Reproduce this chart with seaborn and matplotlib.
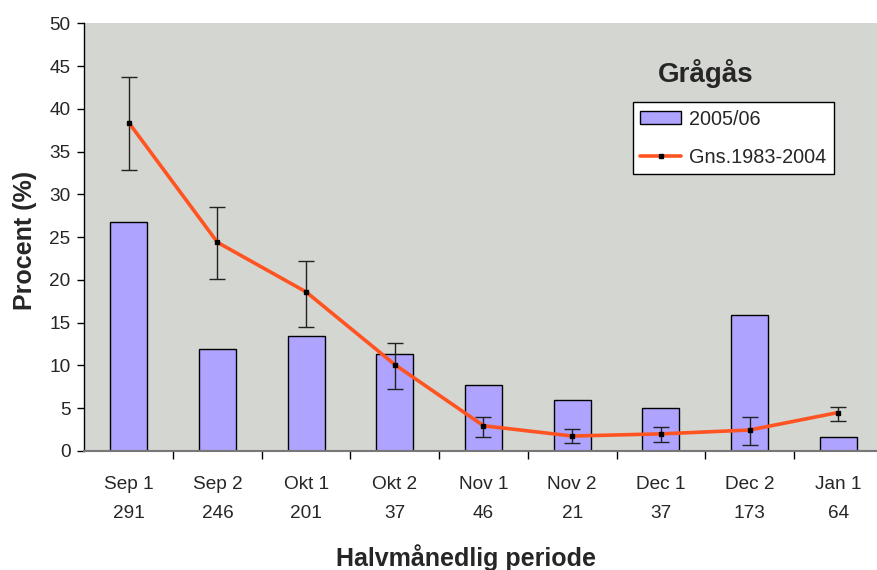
import numpy as np
import seaborn as sns
import matplotlib.pyplot as plt
from matplotlib.patches import Patch
from matplotlib.lines import Line2D

# Data
periods = ['Sep 1', 'Sep 2', 'Okt 1', 'Okt 2', 'Nov 1', 'Nov 2', 'Dec 1', 'Dec 2', 'Jan 1']
counts = ['291', '246', '201', '37', '46', '21', '37', '173', '64']
season_2005 = [26.8, 11.9, 13.5, 11.4, 7.7, 6.0, 5.0, 15.85, 1.65]
avg_1983_2004 = [38.4, 24.4, 18.6, 10.1, 2.95, 1.75, 2.0, 2.45, 4.5]
err_low = [5.5, 4.3, 4.1, 2.8, 1.3, 0.8, 1.0, 1.8, 0.95]
err_high = [5.3, 4.1, 3.6, 2.55, 1.0, 0.8, 0.85, 1.5, 0.7]

sns.set_style('white')
plt.rcParams['font.family'] = ['Liberation Sans', 'DejaVu Sans']

bar_color = '#AEA3FF'
line_color = '#FF5421'

fig = plt.figure(figsize=(8.77, 5.7), dpi=100)
ax = fig.add_axes([0.0963, 0.2088, 0.910, 0.750])
ax.set_facecolor('#D4D6D1')

sns.barplot(x=periods, y=season_2005, color=bar_color, saturation=1,
            edgecolor='black', linewidth=1, width=0.42, ax=ax)

x = np.arange(len(periods))
ax.errorbar(x, avg_1983_2004, yerr=[err_low, err_high], fmt='none',
            ecolor='#222222', elinewidth=1, capsize=5.5, capthick=1, zorder=3)
ax.plot(x, avg_1983_2004, color=line_color, lw=2.6, zorder=4)
ax.plot(x, avg_1983_2004, ls='none', marker='s', ms=3, color='black', zorder=5)

ax.set_xlim(-0.5, len(periods) - 0.5)
ax.set_ylim(0, 50)
ax.set_yticks(range(0, 51, 5))

# Excel-like category ticks: marks at boundaries, labels at centers
ax.set_xticks(x)
ax.set_xticklabels([p + '\n' + c for p, c in zip(periods, counts)],
                   linespacing=1.95)
ax.set_xticks(np.arange(0.5, len(periods) - 0.5, 1), minor=True)
ax.tick_params(axis='x', which='major', length=0, pad=18, labelsize=13.7)
ax.tick_params(axis='x', which='minor', length=6, width=1, color='black',
               direction='out', bottom=True)
ax.tick_params(axis='y', length=5, width=1, color='black', direction='out',
               left=True, pad=5, labelsize=13.7)

for s in ['top', 'right']:
    ax.spines[s].set_visible(False)
ax.spines['left'].set_color('black')
ax.spines['left'].set_linewidth(1)
ax.spines['bottom'].set_color('#777777')
ax.spines['bottom'].set_linewidth(1.5)

ax.set_xlabel('Halvmånedlig periode', fontsize=18, fontweight='bold')
ax.set_ylabel('Procent (%)', fontsize=18, fontweight='bold')
ax.xaxis.set_label_coords(0.478, -0.219)
ax.yaxis.set_label_coords(-0.06, 0.493)

ax.text(0.778, 0.884, 'Grågås', transform=ax.transAxes, ha='center',
        va='center', fontsize=20, fontweight='bold')

handles = [Patch(facecolor=bar_color, edgecolor='black', linewidth=1),
           Line2D([], [], color=line_color, lw=2.6, marker='s', ms=3,
                  markerfacecolor='black', markeredgecolor='black')]
leg = ax.legend(handles, ['2005/06', 'Gns.1983-2004'], loc='upper left',
                bbox_to_anchor=(0.687, 0.816), borderaxespad=0,
                fontsize=14.3, frameon=True, fancybox=False, framealpha=1,
                edgecolor='black', handlelength=2.05, handleheight=0.65,
                labelspacing=0.95, borderpad=0.38, handletextpad=0.4)
leg.get_frame().set_linewidth(1)

fig.savefig('out.png', dpi=100)
